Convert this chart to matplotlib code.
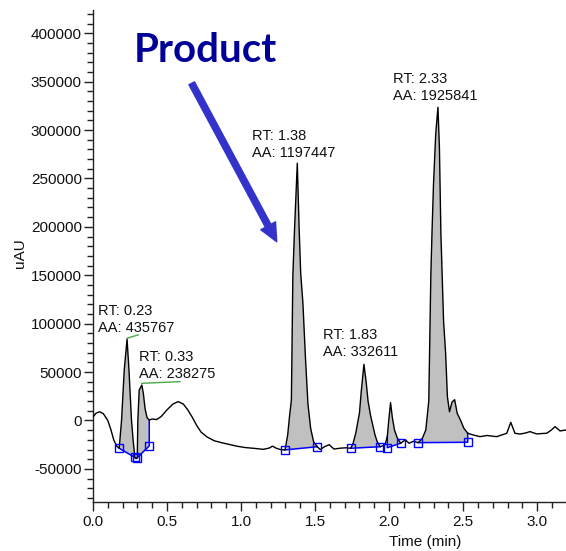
import numpy as np
import matplotlib
matplotlib.use("Agg")
import matplotlib.pyplot as plt
from matplotlib.ticker import MultipleLocator

plt.rcParams['font.family'] = ['Liberation Sans', 'DejaVu Sans']

# Chromatogram trace: time (min) and detector response (uAU)
time = [0.000, 0.020, 0.045, 0.070, 0.100, 0.120, 0.140, 0.160, 0.177, 0.193,
        0.211, 0.230, 0.243, 0.260, 0.272, 0.283, 0.291, 0.299, 0.303, 0.312,
        0.330, 0.340, 0.352, 0.365, 0.380, 0.400, 0.430, 0.460, 0.500, 0.540,
        0.575, 0.610, 0.640, 0.670, 0.700, 0.730, 0.770, 0.820, 0.870, 0.920,
        0.970, 1.030, 1.090, 1.150, 1.190, 1.213, 1.235, 1.265, 1.297, 1.315,
        1.328, 1.340, 1.350, 1.362, 1.380, 1.392, 1.403, 1.418, 1.435, 1.452,
        1.470, 1.490, 1.515, 1.535, 1.565, 1.595, 1.628, 1.670, 1.710, 1.741,
        1.757, 1.775, 1.800, 1.812, 1.830, 1.845, 1.858, 1.875, 1.890, 1.905,
        1.920, 1.940, 1.960, 1.975, 1.988, 1.998, 2.010, 2.022, 2.036, 2.055,
        2.078, 2.110, 2.135, 2.165, 2.197, 2.225, 2.248, 2.268, 2.282, 2.290,
        2.300, 2.315, 2.330, 2.340, 2.350, 2.360, 2.368, 2.382, 2.394, 2.408,
        2.425, 2.443, 2.460, 2.482, 2.505, 2.531, 2.569, 2.614, 2.660, 2.727,
        2.795, 2.822, 2.850, 2.884, 2.920, 2.952, 2.997, 3.030, 3.065, 3.095,
        3.121, 3.155, 3.195]
signal = [3500, 7500, 9000, 7000, 0, -9000, -20000, -26500, -28700, 500,
          52000, 84000, 52000, 500, -22000, -38200, -39500, -38400, 500, 31500,
          36600, 28000, 12000, 3000, 500, 1500, 1000, 4000, 11000, 17000,
          19500, 17000, 11000, 3500, -5000, -12000, -17000, -21000, -23000, -24800,
          -26500, -28000, -28800, -29800, -28500, -26500, -28500, -30000, -30400, -15000,
          5000, 21000, 150000, 200000, 265700, 200000, 152000, 121000, 65000, 17000,
          -8000, -22000, -27100, -30000, -27000, -25000, -29500, -28600, -28200, -28700,
          -23500, -13000, 8000, 30000, 58000, 40000, 20000, 5000, -5000, -15000,
          -22000, -27100, -26000, -24000, -16500, 500, 18400, 3000, -9500, -18000,
          -23500, -20000, -23500, -21500, -22900, -18300, -9800, 20000, 150000, 195000,
          244000, 296000, 323500, 282000, 193000, 145000, 103000, 69000, 24500, 9000,
          19000, 21500, 7400, 500, -8000, -13200, -15000, -16700, -15500, -16700,
          -13200, -1900, -13200, -14000, -13000, -11500, -13900, -13500, -13200, -10000,
          -6400, -10800, -9800]

# Integration windows: baseline start/end (time, response)
base_t0 = [0.177, 0.299, 1.297, 1.741, 1.988, 2.197]
base_y0 = [-28700, -38400, -30400, -28700, -28100, -22900]
base_t1 = [0.283, 0.380, 1.515, 1.940, 2.078, 2.531]
base_y1 = [-38200, -26300, -27100, -27100, -23500, -22500]

# Labelled peaks
peak_rt = [0.23, 0.33, 1.38, 1.83, 2.33]
peak_aa = [435767, 238275, 1197447, 332611, 1925841]

t = np.array(time)
s = np.array(signal)

W, H = 566, 551
fig = plt.figure(figsize=(W / 100, H / 100), dpi=100)
ax = fig.add_axes([93 / W, 49 / H, (W - 93) / W, 492 / H])

ax.set_xlim(0, 3.195)
ax.set_ylim(-84200, 424000)

# peak areas and integration baselines
for t0, y0, t1, y1 in zip(base_t0, base_y0, base_t1, base_y1):
    i0 = int(np.argmin(np.abs(t - t0)))
    i1 = int(np.argmin(np.abs(t - t1)))
    px = [t0] + list(t[i0:i1 + 1]) + [t1]
    py = [y0] + list(s[i0:i1 + 1]) + [y1]
    ax.fill(px, py, facecolor='#c0c0c0', edgecolor='none', zorder=1)
    ax.plot([t0, t0, t1, t1], [s[i0], y0, y1, s[i1]], color='#0000ff',
            lw=1.1, zorder=2)
    ax.plot([t0, t1], [y0, y1], ls='none', marker='s', ms=6,
            mfc='none', mec='#0000ff', mew=1.0, zorder=4)

ax.plot(t, s, color='black', lw=1.0, zorder=3)

# peak annotations
label_pos = [(0.031, 104000), (0.312, 56500), (1.072, 285000),
             (1.551, 79400), (2.024, 344000)]
for rt, aa, (lx, ly) in zip(peak_rt, peak_aa, label_pos):
    ax.text(lx, ly, f"RT: {rt:.2f}\nAA: {aa}", ha='left', va='center',
            fontsize=10.5, linespacing=1.25, color='#111111', zorder=5)

# leader lines from the first two labels to their peaks
ax.plot([peak_rt[0], 0.305], [85000, 88400], color='#44aa44', lw=1.0, zorder=5)
ax.plot([peak_rt[1], 0.587], [38400, 40100], color='#44aa44', lw=1.0, zorder=5)

for side in ('top', 'right'):
    ax.spines[side].set_visible(False)
for side in ('left', 'bottom'):
    ax.spines[side].set_color('#222222')
    ax.spines[side].set_linewidth(1.0)

ax.xaxis.set_major_locator(MultipleLocator(0.5))
ax.xaxis.set_minor_locator(MultipleLocator(0.1))
ax.yaxis.set_major_locator(MultipleLocator(50000))
ax.yaxis.set_minor_locator(MultipleLocator(10000))
ax.xaxis.set_major_formatter(plt.FuncFormatter(lambda v, p: f"{v:.1f}"))
ax.yaxis.set_major_formatter(plt.FuncFormatter(lambda v, p: f"{int(round(v))}"))
ax.tick_params(which='major', direction='out', length=6.5, width=1,
               color='#222222', labelsize=11, labelcolor='#111111')
ax.tick_params(which='minor', direction='out', length=4.5, width=1,
               color='#222222')
ax.tick_params(axis='y', which='major', pad=1.5)
ax.tick_params(axis='x', which='major', pad=2.5)

fig.text(20 / W, 1 - 253 / H, 'uAU', rotation=90, ha='center', va='center',
         fontsize=11, color='#111111')
fig.text(425 / W, 1 - 542 / H, 'Time (min)', ha='center', va='center',
         fontsize=11, color='#111111')

# callout
fig.text(134 / W, 1 - 62 / H, 'Product', ha='left', va='baseline',
         fontsize=29, fontweight='bold', family=['Lato', 'DejaVu Sans'],
         color='#000099')
ax.annotate('', xy=(276.7, H - 241.7), xytext=(191.7, H - 83.3),
            xycoords='figure pixels', textcoords='figure pixels',
            arrowprops=dict(arrowstyle='simple,head_length=1.3,head_width=1.2,tail_width=0.45',
                            mutation_scale=10, color='#3333cc',
                            shrinkA=0, shrinkB=0))

fig.savefig('out.png', dpi=100)
